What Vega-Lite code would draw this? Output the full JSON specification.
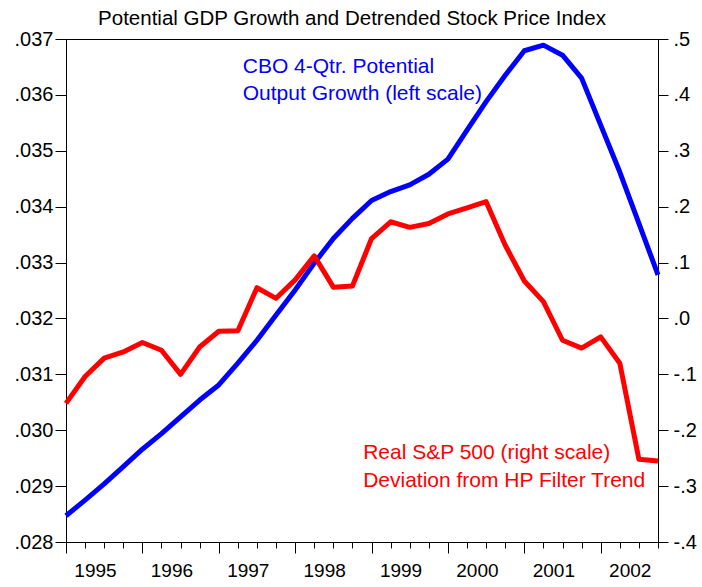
{
  "$schema": "https://vega.github.io/schema/vega-lite/v6.json",
  "width": 592,
  "height": 503,
  "autosize": {"type": "none"},
  "padding": {"left": 66, "top": 39, "right": 44, "bottom": 45},
  "background": "white",
  "config": {
    "font": "Liberation Sans",
    "view": {"stroke": "black", "strokeWidth": 1},
    "axis": {"grid": false, "domainColor": "black", "tickColor": "black", "labelColor": "black", "labelFont": "Liberation Sans", "labelFontSize": 20}
  },
  "title": {
    "text": "Potential GDP Growth and Detrended Stock Price Index",
    "font": "Liberation Sans",
    "fontSize": 20.5,
    "fontWeight": "normal",
    "color": "black",
    "anchor": "middle",
    "frame": "group",
    "baseline": "alphabetic",
    "dx": -10,
    "offset": -16
  },
  "datasets": {
    "series": [
      {"t": 1995.00, "cbo": 0.02847, "sp": -0.152},
      {"t": 1995.25, "cbo": 0.02875, "sp": -0.104},
      {"t": 1995.50, "cbo": 0.02904, "sp": -0.071},
      {"t": 1995.75, "cbo": 0.02935, "sp": -0.060},
      {"t": 1996.00, "cbo": 0.02966, "sp": -0.043},
      {"t": 1996.25, "cbo": 0.02994, "sp": -0.057},
      {"t": 1996.50, "cbo": 0.03024, "sp": -0.100},
      {"t": 1996.75, "cbo": 0.03054, "sp": -0.051},
      {"t": 1997.00, "cbo": 0.03081, "sp": -0.023},
      {"t": 1997.25, "cbo": 0.03120, "sp": -0.022},
      {"t": 1997.50, "cbo": 0.03161, "sp": 0.055},
      {"t": 1997.75, "cbo": 0.03206, "sp": 0.036},
      {"t": 1998.00, "cbo": 0.03251, "sp": 0.069},
      {"t": 1998.25, "cbo": 0.03299, "sp": 0.112},
      {"t": 1998.50, "cbo": 0.03343, "sp": 0.056},
      {"t": 1998.75, "cbo": 0.03379, "sp": 0.058},
      {"t": 1999.00, "cbo": 0.03411, "sp": 0.143},
      {"t": 1999.25, "cbo": 0.03427, "sp": 0.173},
      {"t": 1999.50, "cbo": 0.03439, "sp": 0.163},
      {"t": 1999.75, "cbo": 0.03458, "sp": 0.170},
      {"t": 2000.00, "cbo": 0.03485, "sp": 0.187},
      {"t": 2000.25, "cbo": 0.03537, "sp": 0.198},
      {"t": 2000.50, "cbo": 0.03588, "sp": 0.209},
      {"t": 2000.75, "cbo": 0.03635, "sp": 0.131},
      {"t": 2001.00, "cbo": 0.03679, "sp": 0.067},
      {"t": 2001.25, "cbo": 0.03689, "sp": 0.030},
      {"t": 2001.50, "cbo": 0.03671, "sp": -0.039},
      {"t": 2001.75, "cbo": 0.03630, "sp": -0.053},
      {"t": 2002.00, "cbo": 0.03546, "sp": -0.033},
      {"t": 2002.25, "cbo": 0.03462, "sp": -0.080},
      {"t": 2002.50, "cbo": 0.03370, "sp": -0.252},
      {"t": 2002.75, "cbo": 0.03278, "sp": -0.255}
    ],
    "notesLeft": [
      {"t": 1997.314, "cbo": 0.036395, "label": "CBO 4-Qtr. Potential"},
      {"t": 1997.314, "cbo": 0.035907, "label": "Output Growth (left scale)"}
    ],
    "notesRight": [
      {"t": 1998.89, "sp": -0.2521, "label": "Real S&P 500 (right scale)"},
      {"t": 1998.89, "sp": -0.3011, "label": "Deviation from HP Filter Trend"}
    ]
  },
  "encoding": {
    "x": {
      "field": "t", "type": "quantitative", "title": null,
      "scale": {"domain": [1995, 2002.75], "zero": false, "nice": false},
      "axis": {
        "orient": "bottom",
        "values": [1995, 1995.25, 1995.5, 1995.75, 1996, 1996.25, 1996.5, 1996.75, 1997, 1997.25, 1997.5, 1997.75, 1998, 1998.25, 1998.5, 1998.75, 1999, 1999.25, 1999.5, 1999.75, 2000, 2000.25, 2000.5, 2000.75, 2001, 2001.25, 2001.5, 2001.75, 2002, 2002.25, 2002.5, 2002.75],
        "tickSize": {"condition": {"test": "datum.value % 1 == 0", "value": 11}, "value": 6},
        "labelExpr": "datum.value % 1 == 0 ? format(datum.value, 'd') : ''",
        "labelOffset": 29,
        "labelFlush": false,
        "labelOverlap": false,
        "labelPadding": 8,
        "labelFontSize": 19
      }
    }
  },
  "layer": [
    {
      "encoding": {
        "y": {
          "field": "cbo", "type": "quantitative", "title": null,
          "scale": {"domain": [0.028, 0.037], "zero": false, "nice": false},
          "axis": {
            "orient": "left",
            "values": [0.028, 0.029, 0.030, 0.031, 0.032, 0.033, 0.034, 0.035, 0.036, 0.037],
            "labelExpr": "'.0' + format(datum.value * 1000, '.0f')",
            "tickSize": 11,
            "labelPadding": 2
          }
        }
      },
      "layer": [
        {
          "data": {"name": "series"},
          "mark": {"type": "line", "color": "#0000FF", "strokeWidth": 5, "strokeJoin": "round"}
        },
        {
          "data": {"name": "notesLeft"},
          "mark": {"type": "text", "color": "#0000FF", "fontSize": 21, "align": "left", "baseline": "alphabetic", "font": "Liberation Sans"},
          "encoding": {"text": {"field": "label"}}
        }
      ]
    },
    {
      "encoding": {
        "y": {
          "field": "sp", "type": "quantitative", "title": null,
          "scale": {"domain": [-0.4, 0.5], "zero": false, "nice": false},
          "axis": {
            "orient": "right",
            "values": [-0.4, -0.3, -0.2, -0.1, 0, 0.1, 0.2, 0.3, 0.4, 0.5],
            "labelExpr": "(datum.value < -0.00001 ? '-' : '') + '.' + format(abs(datum.value) * 10, '.0f')",
            "tickSize": 10,
            "labelPadding": 5
          }
        }
      },
      "layer": [
        {
          "data": {"name": "series"},
          "mark": {"type": "line", "color": "#FF0000", "strokeWidth": 5, "strokeJoin": "round"}
        },
        {
          "data": {"name": "notesRight"},
          "mark": {"type": "text", "color": "#FF0000", "fontSize": 21, "align": "left", "baseline": "alphabetic", "font": "Liberation Sans"},
          "encoding": {"text": {"field": "label"}}
        }
      ]
    }
  ],
  "resolve": {"scale": {"y": "independent"}, "axis": {"y": "independent"}}
}
